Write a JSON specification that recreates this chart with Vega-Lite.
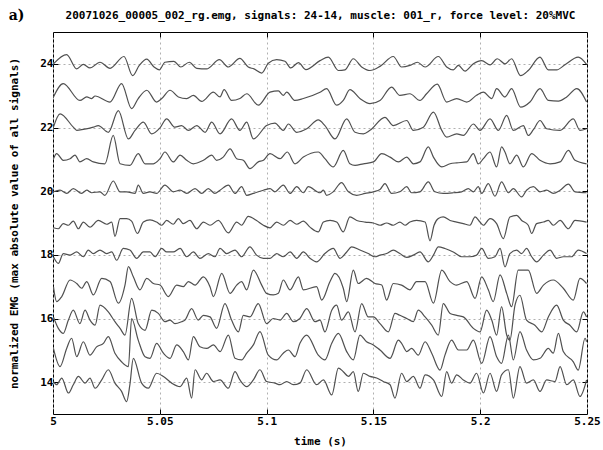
{
"$schema":"https://vega.github.io/schema/vega-lite/v6.json",
"width":534,"height":382,
"autosize":{"type":"none"},
"padding":{"left":53,"top":32,"right":16,"bottom":36},
"background":"#ffffff",
"data":{"values":[
{"s":24,"t":5.0002,"v":24.00},{"s":24,"t":5.0064,"v":24.29},{"s":24,"t":5.0111,"v":23.84},{"s":24,"t":5.0142,"v":23.98},{"s":24,"t":5.0173,"v":23.87},{"s":24,"t":5.0220,"v":24.05},{"s":24,"t":5.0267,"v":23.86},{"s":24,"t":5.0332,"v":24.23},{"s":24,"t":5.0373,"v":23.63},{"s":24,"t":5.0404,"v":23.95},{"s":24,"t":5.0439,"v":24.15},{"s":24,"t":5.0473,"v":23.90},{"s":24,"t":5.0498,"v":23.81},{"s":24,"t":5.0524,"v":24.05},{"s":24,"t":5.0566,"v":24.08},{"s":24,"t":5.0598,"v":23.90},{"s":24,"t":5.0638,"v":24.05},{"s":24,"t":5.0673,"v":23.86},{"s":24,"t":5.0719,"v":23.84},{"s":24,"t":5.0779,"v":24.13},{"s":24,"t":5.0821,"v":23.90},{"s":24,"t":5.0875,"v":24.17},{"s":24,"t":5.0914,"v":23.90},{"s":24,"t":5.0941,"v":23.84},{"s":24,"t":5.0977,"v":23.71},{"s":24,"t":5.1008,"v":24.02},{"s":24,"t":5.1047,"v":24.13},{"s":24,"t":5.1086,"v":24.08},{"s":24,"t":5.1113,"v":23.87},{"s":24,"t":5.1149,"v":24.04},{"s":24,"t":5.1184,"v":23.82},{"s":24,"t":5.1250,"v":24.10},{"s":24,"t":5.1289,"v":24.21},{"s":24,"t":5.1336,"v":23.79},{"s":24,"t":5.1367,"v":23.81},{"s":24,"t":5.1406,"v":24.16},{"s":24,"t":5.1445,"v":23.90},{"s":24,"t":5.1484,"v":23.79},{"s":24,"t":5.1531,"v":23.92},{"s":24,"t":5.1593,"v":24.23},{"s":24,"t":5.1632,"v":23.90},{"s":24,"t":5.1671,"v":23.95},{"s":24,"t":5.1706,"v":24.05},{"s":24,"t":5.1742,"v":23.90},{"s":24,"t":5.1804,"v":24.23},{"s":24,"t":5.1843,"v":23.90},{"s":24,"t":5.1874,"v":23.81},{"s":24,"t":5.1898,"v":23.95},{"s":24,"t":5.1929,"v":23.77},{"s":24,"t":5.1968,"v":24.00},{"s":24,"t":5.2007,"v":24.10},{"s":24,"t":5.2046,"v":23.97},{"s":24,"t":5.2080,"v":24.16},{"s":24,"t":5.2116,"v":24.00},{"s":24,"t":5.2147,"v":24.16},{"s":24,"t":5.2189,"v":23.63},{"s":24,"t":5.2225,"v":23.79},{"s":24,"t":5.2280,"v":24.21},{"s":24,"t":5.2319,"v":23.81},{"s":24,"t":5.2358,"v":23.81},{"s":24,"t":5.2397,"v":23.97},{"s":24,"t":5.2459,"v":24.21},{"s":24,"t":5.2498,"v":23.98},
{"s":23,"t":5.0002,"v":22.96},{"s":23,"t":5.0048,"v":23.38},{"s":23,"t":5.0126,"v":22.85},{"s":23,"t":5.0158,"v":22.96},{"s":23,"t":5.0181,"v":22.91},{"s":23,"t":5.0197,"v":22.99},{"s":23,"t":5.0267,"v":22.80},{"s":23,"t":5.0321,"v":23.38},{"s":23,"t":5.0368,"v":22.59},{"s":23,"t":5.0399,"v":22.91},{"s":23,"t":5.0439,"v":23.17},{"s":23,"t":5.0485,"v":22.80},{"s":23,"t":5.0509,"v":22.91},{"s":23,"t":5.0548,"v":23.17},{"s":23,"t":5.0587,"v":22.96},{"s":23,"t":5.0626,"v":22.91},{"s":23,"t":5.0657,"v":23.01},{"s":23,"t":5.0696,"v":22.82},{"s":23,"t":5.0751,"v":23.11},{"s":23,"t":5.0782,"v":22.96},{"s":23,"t":5.0801,"v":23.19},{"s":23,"t":5.0836,"v":22.85},{"s":23,"t":5.0875,"v":22.91},{"s":23,"t":5.0907,"v":23.06},{"s":23,"t":5.0961,"v":22.70},{"s":23,"t":5.1016,"v":23.11},{"s":23,"t":5.1055,"v":23.15},{"s":23,"t":5.1078,"v":23.01},{"s":23,"t":5.1094,"v":23.11},{"s":23,"t":5.1133,"v":22.85},{"s":23,"t":5.1172,"v":22.91},{"s":23,"t":5.1250,"v":23.11},{"s":23,"t":5.1281,"v":23.22},{"s":23,"t":5.1328,"v":22.70},{"s":23,"t":5.1359,"v":22.85},{"s":23,"t":5.1390,"v":23.19},{"s":23,"t":5.1437,"v":22.91},{"s":23,"t":5.1484,"v":22.75},{"s":23,"t":5.1531,"v":22.85},{"s":23,"t":5.1585,"v":23.27},{"s":23,"t":5.1624,"v":23.01},{"s":23,"t":5.1671,"v":23.06},{"s":23,"t":5.1718,"v":22.85},{"s":23,"t":5.1749,"v":23.06},{"s":23,"t":5.1799,"v":23.36},{"s":23,"t":5.1843,"v":22.80},{"s":23,"t":5.1890,"v":22.91},{"s":23,"t":5.1937,"v":22.80},{"s":23,"t":5.1983,"v":23.01},{"s":23,"t":5.2015,"v":23.11},{"s":23,"t":5.2054,"v":22.91},{"s":23,"t":5.2077,"v":23.22},{"s":23,"t":5.2116,"v":22.96},{"s":23,"t":5.2147,"v":23.22},{"s":23,"t":5.2189,"v":22.64},{"s":23,"t":5.2233,"v":22.80},{"s":23,"t":5.2280,"v":23.22},{"s":23,"t":5.2319,"v":22.85},{"s":23,"t":5.2366,"v":22.83},{"s":23,"t":5.2405,"v":22.96},{"s":23,"t":5.2452,"v":23.22},{"s":23,"t":5.2498,"v":22.80},
{"s":22,"t":5.0002,"v":22.01},{"s":22,"t":5.0033,"v":22.43},{"s":22,"t":5.0095,"v":22.01},{"s":22,"t":5.0111,"v":21.91},{"s":22,"t":5.0142,"v":21.94},{"s":22,"t":5.0189,"v":22.01},{"s":22,"t":5.0212,"v":22.06},{"s":22,"t":5.0259,"v":21.85},{"s":22,"t":5.0306,"v":22.53},{"s":22,"t":5.0353,"v":21.64},{"s":22,"t":5.0384,"v":21.91},{"s":22,"t":5.0423,"v":22.17},{"s":22,"t":5.0462,"v":21.80},{"s":22,"t":5.0501,"v":21.99},{"s":22,"t":5.0532,"v":22.27},{"s":22,"t":5.0571,"v":22.01},{"s":22,"t":5.0602,"v":22.06},{"s":22,"t":5.0634,"v":21.91},{"s":22,"t":5.0673,"v":22.06},{"s":22,"t":5.0712,"v":21.85},{"s":22,"t":5.0743,"v":22.17},{"s":22,"t":5.0782,"v":21.80},{"s":22,"t":5.0836,"v":22.27},{"s":22,"t":5.0875,"v":21.91},{"s":22,"t":5.0907,"v":22.17},{"s":22,"t":5.0938,"v":21.64},{"s":22,"t":5.1000,"v":22.06},{"s":22,"t":5.1039,"v":22.14},{"s":22,"t":5.1078,"v":21.91},{"s":22,"t":5.1102,"v":22.11},{"s":22,"t":5.1141,"v":21.85},{"s":22,"t":5.1188,"v":21.96},{"s":22,"t":5.1242,"v":22.24},{"s":22,"t":5.1273,"v":22.06},{"s":22,"t":5.1320,"v":21.64},{"s":22,"t":5.1375,"v":22.27},{"s":22,"t":5.1414,"v":21.85},{"s":22,"t":5.1453,"v":21.80},{"s":22,"t":5.1484,"v":21.91},{"s":22,"t":5.1554,"v":22.32},{"s":22,"t":5.1593,"v":22.06},{"s":22,"t":5.1656,"v":22.22},{"s":22,"t":5.1687,"v":21.91},{"s":22,"t":5.1734,"v":22.01},{"s":22,"t":5.1781,"v":22.48},{"s":22,"t":5.1820,"v":21.91},{"s":22,"t":5.1843,"v":21.70},{"s":22,"t":5.1890,"v":21.80},{"s":22,"t":5.1921,"v":21.75},{"s":22,"t":5.1968,"v":22.11},{"s":22,"t":5.1999,"v":21.91},{"s":22,"t":5.2046,"v":22.27},{"s":22,"t":5.2085,"v":21.91},{"s":22,"t":5.2124,"v":22.38},{"s":22,"t":5.2155,"v":21.91},{"s":22,"t":5.2202,"v":22.06},{"s":22,"t":5.2225,"v":21.75},{"s":22,"t":5.2249,"v":21.93},{"s":22,"t":5.2280,"v":22.22},{"s":22,"t":5.2311,"v":21.96},{"s":22,"t":5.2374,"v":21.91},{"s":22,"t":5.2436,"v":22.27},{"s":22,"t":5.2467,"v":21.91},{"s":22,"t":5.2498,"v":21.96},
{"s":21,"t":5.0002,"v":21.02},{"s":21,"t":5.0017,"v":21.18},{"s":21,"t":5.0048,"v":20.97},{"s":21,"t":5.0080,"v":21.02},{"s":21,"t":5.0103,"v":21.13},{"s":21,"t":5.0126,"v":20.92},{"s":21,"t":5.0158,"v":21.02},{"s":21,"t":5.0189,"v":20.92},{"s":21,"t":5.0243,"v":20.86},{"s":21,"t":5.0282,"v":21.75},{"s":21,"t":5.0314,"v":20.86},{"s":21,"t":5.0360,"v":20.81},{"s":21,"t":5.0399,"v":21.18},{"s":21,"t":5.0431,"v":20.86},{"s":21,"t":5.0470,"v":20.86},{"s":21,"t":5.0501,"v":21.02},{"s":21,"t":5.0524,"v":21.23},{"s":21,"t":5.0563,"v":20.92},{"s":21,"t":5.0595,"v":21.13},{"s":21,"t":5.0626,"v":20.97},{"s":21,"t":5.0657,"v":20.86},{"s":21,"t":5.0704,"v":20.97},{"s":21,"t":5.0743,"v":21.13},{"s":21,"t":5.0766,"v":20.97},{"s":21,"t":5.0797,"v":21.07},{"s":21,"t":5.0829,"v":21.33},{"s":21,"t":5.0860,"v":21.02},{"s":21,"t":5.0891,"v":20.97},{"s":21,"t":5.0922,"v":20.71},{"s":21,"t":5.0961,"v":20.92},{"s":21,"t":5.0985,"v":20.97},{"s":21,"t":5.1016,"v":21.18},{"s":21,"t":5.1063,"v":21.02},{"s":21,"t":5.1097,"v":21.23},{"s":21,"t":5.1133,"v":20.86},{"s":21,"t":5.1172,"v":21.07},{"s":21,"t":5.1242,"v":21.23},{"s":21,"t":5.1273,"v":21.02},{"s":21,"t":5.1312,"v":20.76},{"s":21,"t":5.1359,"v":21.28},{"s":21,"t":5.1390,"v":20.86},{"s":21,"t":5.1414,"v":20.81},{"s":21,"t":5.1453,"v":20.86},{"s":21,"t":5.1500,"v":20.92},{"s":21,"t":5.1539,"v":21.18},{"s":21,"t":5.1578,"v":21.07},{"s":21,"t":5.1617,"v":20.92},{"s":21,"t":5.1656,"v":21.07},{"s":21,"t":5.1687,"v":20.86},{"s":21,"t":5.1718,"v":20.92},{"s":21,"t":5.1757,"v":21.39},{"s":21,"t":5.1781,"v":21.07},{"s":21,"t":5.1820,"v":20.76},{"s":21,"t":5.1859,"v":20.86},{"s":21,"t":5.1890,"v":20.89},{"s":21,"t":5.1937,"v":20.92},{"s":21,"t":5.1968,"v":21.18},{"s":21,"t":5.1991,"v":20.86},{"s":21,"t":5.2015,"v":21.02},{"s":21,"t":5.2046,"v":21.23},{"s":21,"t":5.2077,"v":20.76},{"s":21,"t":5.2100,"v":21.39},{"s":21,"t":5.2116,"v":21.23},{"s":21,"t":5.2139,"v":20.86},{"s":21,"t":5.2171,"v":21.13},{"s":21,"t":5.2202,"v":20.76},{"s":21,"t":5.2241,"v":21.18},{"s":21,"t":5.2280,"v":20.97},{"s":21,"t":5.2327,"v":20.86},{"s":21,"t":5.2374,"v":20.92},{"s":21,"t":5.2413,"v":21.28},{"s":21,"t":5.2444,"v":20.97},{"s":21,"t":5.2498,"v":20.86},
{"s":20,"t":5.0002,"v":19.98},{"s":20,"t":5.0033,"v":20.03},{"s":20,"t":5.0064,"v":19.93},{"s":20,"t":5.0095,"v":20.08},{"s":20,"t":5.0134,"v":19.93},{"s":20,"t":5.0158,"v":20.03},{"s":20,"t":5.0181,"v":19.95},{"s":20,"t":5.0220,"v":19.98},{"s":20,"t":5.0243,"v":19.87},{"s":20,"t":5.0282,"v":20.32},{"s":20,"t":5.0314,"v":19.98},{"s":20,"t":5.0345,"v":19.98},{"s":20,"t":5.0384,"v":19.93},{"s":20,"t":5.0399,"v":20.19},{"s":20,"t":5.0423,"v":19.93},{"s":20,"t":5.0454,"v":19.98},{"s":20,"t":5.0485,"v":19.93},{"s":20,"t":5.0524,"v":20.19},{"s":20,"t":5.0563,"v":19.98},{"s":20,"t":5.0595,"v":20.03},{"s":20,"t":5.0626,"v":19.93},{"s":20,"t":5.0665,"v":20.08},{"s":20,"t":5.0696,"v":19.93},{"s":20,"t":5.0727,"v":20.08},{"s":20,"t":5.0758,"v":19.93},{"s":20,"t":5.0782,"v":20.03},{"s":20,"t":5.0821,"v":20.19},{"s":20,"t":5.0852,"v":19.93},{"s":20,"t":5.0883,"v":20.14},{"s":20,"t":5.0907,"v":19.87},{"s":20,"t":5.0938,"v":19.93},{"s":20,"t":5.0985,"v":20.03},{"s":20,"t":5.1016,"v":20.08},{"s":20,"t":5.1039,"v":19.98},{"s":20,"t":5.1078,"v":20.19},{"s":20,"t":5.1110,"v":19.93},{"s":20,"t":5.1141,"v":20.14},{"s":20,"t":5.1172,"v":19.95},{"s":20,"t":5.1195,"v":20.14},{"s":20,"t":5.1250,"v":19.95},{"s":20,"t":5.1266,"v":20.03},{"s":20,"t":5.1281,"v":19.87},{"s":20,"t":5.1312,"v":19.98},{"s":20,"t":5.1351,"v":20.27},{"s":20,"t":5.1383,"v":19.98},{"s":20,"t":5.1422,"v":19.87},{"s":20,"t":5.1461,"v":19.93},{"s":20,"t":5.1500,"v":19.98},{"s":20,"t":5.1531,"v":20.05},{"s":20,"t":5.1554,"v":20.24},{"s":20,"t":5.1585,"v":19.93},{"s":20,"t":5.1624,"v":19.98},{"s":20,"t":5.1656,"v":20.14},{"s":20,"t":5.1679,"v":19.95},{"s":20,"t":5.1718,"v":19.98},{"s":20,"t":5.1757,"v":20.29},{"s":20,"t":5.1788,"v":19.98},{"s":20,"t":5.1827,"v":19.93},{"s":20,"t":5.1874,"v":19.95},{"s":20,"t":5.1913,"v":19.98},{"s":20,"t":5.1944,"v":20.08},{"s":20,"t":5.1968,"v":19.98},{"s":20,"t":5.1991,"v":20.14},{"s":20,"t":5.2007,"v":19.93},{"s":20,"t":5.2038,"v":20.24},{"s":20,"t":5.2069,"v":19.84},{"s":20,"t":5.2100,"v":20.29},{"s":20,"t":5.2132,"v":19.95},{"s":20,"t":5.2155,"v":20.08},{"s":20,"t":5.2194,"v":19.82},{"s":20,"t":5.2217,"v":20.03},{"s":20,"t":5.2249,"v":20.14},{"s":20,"t":5.2280,"v":19.98},{"s":20,"t":5.2311,"v":20.03},{"s":20,"t":5.2342,"v":19.93},{"s":20,"t":5.2374,"v":20.03},{"s":20,"t":5.2413,"v":20.22},{"s":20,"t":5.2444,"v":19.98},{"s":20,"t":5.2498,"v":19.95},
{"s":19,"t":5.0002,"v":18.85},{"s":19,"t":5.0025,"v":18.82},{"s":19,"t":5.0048,"v":18.98},{"s":19,"t":5.0072,"v":18.93},{"s":19,"t":5.0095,"v":19.06},{"s":19,"t":5.0119,"v":18.82},{"s":19,"t":5.0142,"v":19.03},{"s":19,"t":5.0173,"v":18.87},{"s":19,"t":5.0212,"v":19.08},{"s":19,"t":5.0251,"v":18.96},{"s":19,"t":5.0275,"v":19.03},{"s":19,"t":5.0290,"v":18.58},{"s":19,"t":5.0314,"v":19.14},{"s":19,"t":5.0345,"v":19.14},{"s":19,"t":5.0368,"v":19.06},{"s":19,"t":5.0395,"v":18.67},{"s":19,"t":5.0423,"v":19.03},{"s":19,"t":5.0454,"v":19.10},{"s":19,"t":5.0485,"v":19.03},{"s":19,"t":5.0509,"v":18.93},{"s":19,"t":5.0532,"v":19.08},{"s":19,"t":5.0563,"v":18.96},{"s":19,"t":5.0587,"v":19.14},{"s":19,"t":5.0610,"v":18.98},{"s":19,"t":5.0641,"v":19.08},{"s":19,"t":5.0673,"v":18.82},{"s":19,"t":5.0704,"v":19.03},{"s":19,"t":5.0735,"v":18.93},{"s":19,"t":5.0774,"v":19.08},{"s":19,"t":5.0821,"v":18.69},{"s":19,"t":5.0860,"v":19.03},{"s":19,"t":5.0883,"v":18.93},{"s":19,"t":5.0914,"v":19.21},{"s":19,"t":5.0953,"v":19.08},{"s":19,"t":5.0985,"v":18.93},{"s":19,"t":5.1016,"v":18.85},{"s":19,"t":5.1047,"v":19.03},{"s":19,"t":5.1078,"v":18.93},{"s":19,"t":5.1110,"v":19.08},{"s":19,"t":5.1141,"v":18.96},{"s":19,"t":5.1172,"v":19.06},{"s":19,"t":5.1203,"v":18.87},{"s":19,"t":5.1242,"v":18.72},{"s":19,"t":5.1266,"v":19.03},{"s":19,"t":5.1297,"v":19.08},{"s":19,"t":5.1328,"v":19.03},{"s":19,"t":5.1359,"v":18.72},{"s":19,"t":5.1390,"v":19.19},{"s":19,"t":5.1422,"v":19.08},{"s":19,"t":5.1461,"v":19.03},{"s":19,"t":5.1500,"v":19.00},{"s":19,"t":5.1531,"v":18.93},{"s":19,"t":5.1562,"v":19.00},{"s":19,"t":5.1593,"v":18.93},{"s":19,"t":5.1624,"v":19.03},{"s":19,"t":5.1648,"v":18.93},{"s":19,"t":5.1671,"v":19.03},{"s":19,"t":5.1702,"v":19.08},{"s":19,"t":5.1742,"v":19.03},{"s":19,"t":5.1765,"v":18.44},{"s":19,"t":5.1784,"v":18.93},{"s":19,"t":5.1804,"v":19.14},{"s":19,"t":5.1827,"v":19.19},{"s":19,"t":5.1859,"v":19.08},{"s":19,"t":5.1890,"v":19.03},{"s":19,"t":5.1921,"v":18.98},{"s":19,"t":5.1952,"v":18.93},{"s":19,"t":5.1976,"v":19.19},{"s":19,"t":5.1999,"v":19.03},{"s":19,"t":5.2015,"v":18.93},{"s":19,"t":5.2046,"v":19.14},{"s":19,"t":5.2077,"v":18.98},{"s":19,"t":5.2108,"v":18.51},{"s":19,"t":5.2139,"v":19.19},{"s":19,"t":5.2171,"v":19.24},{"s":19,"t":5.2194,"v":19.08},{"s":19,"t":5.2225,"v":18.93},{"s":19,"t":5.2241,"v":18.67},{"s":19,"t":5.2264,"v":18.98},{"s":19,"t":5.2296,"v":19.03},{"s":19,"t":5.2319,"v":19.08},{"s":19,"t":5.2342,"v":18.93},{"s":19,"t":5.2374,"v":19.08},{"s":19,"t":5.2413,"v":18.82},{"s":19,"t":5.2444,"v":19.08},{"s":19,"t":5.2498,"v":19.03},
{"s":18,"t":5.0002,"v":17.94},{"s":18,"t":5.0025,"v":17.73},{"s":18,"t":5.0048,"v":18.04},{"s":18,"t":5.0080,"v":17.99},{"s":18,"t":5.0111,"v":18.09},{"s":18,"t":5.0142,"v":17.94},{"s":18,"t":5.0165,"v":18.15},{"s":18,"t":5.0189,"v":18.04},{"s":18,"t":5.0220,"v":18.15},{"s":18,"t":5.0251,"v":18.04},{"s":18,"t":5.0275,"v":18.09},{"s":18,"t":5.0298,"v":17.83},{"s":18,"t":5.0329,"v":18.20},{"s":18,"t":5.0360,"v":18.15},{"s":18,"t":5.0392,"v":17.89},{"s":18,"t":5.0423,"v":18.09},{"s":18,"t":5.0454,"v":18.09},{"s":18,"t":5.0478,"v":17.94},{"s":18,"t":5.0509,"v":18.20},{"s":18,"t":5.0532,"v":18.09},{"s":18,"t":5.0563,"v":18.09},{"s":18,"t":5.0595,"v":18.20},{"s":18,"t":5.0626,"v":17.94},{"s":18,"t":5.0657,"v":18.09},{"s":18,"t":5.0688,"v":17.89},{"s":18,"t":5.0727,"v":18.04},{"s":18,"t":5.0758,"v":17.94},{"s":18,"t":5.0782,"v":18.20},{"s":18,"t":5.0813,"v":18.04},{"s":18,"t":5.0852,"v":18.15},{"s":18,"t":5.0883,"v":17.94},{"s":18,"t":5.0922,"v":18.25},{"s":18,"t":5.0953,"v":17.99},{"s":18,"t":5.0985,"v":17.89},{"s":18,"t":5.1016,"v":17.89},{"s":18,"t":5.1047,"v":18.04},{"s":18,"t":5.1078,"v":17.94},{"s":18,"t":5.1110,"v":18.09},{"s":18,"t":5.1141,"v":17.89},{"s":18,"t":5.1172,"v":18.09},{"s":18,"t":5.1203,"v":17.89},{"s":18,"t":5.1234,"v":17.78},{"s":18,"t":5.1273,"v":18.04},{"s":18,"t":5.1312,"v":18.20},{"s":18,"t":5.1344,"v":17.89},{"s":18,"t":5.1375,"v":18.09},{"s":18,"t":5.1398,"v":18.25},{"s":18,"t":5.1437,"v":18.15},{"s":18,"t":5.1476,"v":18.04},{"s":18,"t":5.1507,"v":17.94},{"s":18,"t":5.1531,"v":17.99},{"s":18,"t":5.1562,"v":18.04},{"s":18,"t":5.1593,"v":18.15},{"s":18,"t":5.1624,"v":18.04},{"s":18,"t":5.1656,"v":17.92},{"s":18,"t":5.1687,"v":17.99},{"s":18,"t":5.1718,"v":18.09},{"s":18,"t":5.1757,"v":17.78},{"s":18,"t":5.1781,"v":17.99},{"s":18,"t":5.1804,"v":18.25},{"s":18,"t":5.1835,"v":18.20},{"s":18,"t":5.1874,"v":18.09},{"s":18,"t":5.1913,"v":17.94},{"s":18,"t":5.1952,"v":17.94},{"s":18,"t":5.1983,"v":17.99},{"s":18,"t":5.2007,"v":18.20},{"s":18,"t":5.2038,"v":17.89},{"s":18,"t":5.2069,"v":17.94},{"s":18,"t":5.2093,"v":18.20},{"s":18,"t":5.2116,"v":17.62},{"s":18,"t":5.2139,"v":18.04},{"s":18,"t":5.2171,"v":18.15},{"s":18,"t":5.2194,"v":18.04},{"s":18,"t":5.2217,"v":18.20},{"s":18,"t":5.2241,"v":17.94},{"s":18,"t":5.2264,"v":17.78},{"s":18,"t":5.2296,"v":17.99},{"s":18,"t":5.2327,"v":18.15},{"s":18,"t":5.2358,"v":17.89},{"s":18,"t":5.2389,"v":17.94},{"s":18,"t":5.2428,"v":17.94},{"s":18,"t":5.2459,"v":18.15},{"s":18,"t":5.2498,"v":18.04},
{"s":17,"t":5.0002,"v":17.00},{"s":17,"t":5.0017,"v":16.53},{"s":17,"t":5.0041,"v":16.69},{"s":17,"t":5.0080,"v":17.21},{"s":17,"t":5.0111,"v":17.10},{"s":17,"t":5.0134,"v":16.95},{"s":17,"t":5.0158,"v":17.16},{"s":17,"t":5.0189,"v":16.74},{"s":17,"t":5.0228,"v":17.26},{"s":17,"t":5.0267,"v":17.16},{"s":17,"t":5.0306,"v":16.48},{"s":17,"t":5.0337,"v":17.05},{"s":17,"t":5.0353,"v":17.63},{"s":17,"t":5.0376,"v":17.31},{"s":17,"t":5.0407,"v":16.90},{"s":17,"t":5.0439,"v":17.26},{"s":17,"t":5.0470,"v":17.10},{"s":17,"t":5.0501,"v":17.05},{"s":17,"t":5.0540,"v":16.69},{"s":17,"t":5.0579,"v":17.05},{"s":17,"t":5.0610,"v":17.00},{"s":17,"t":5.0634,"v":17.16},{"s":17,"t":5.0665,"v":17.05},{"s":17,"t":5.0704,"v":17.31},{"s":17,"t":5.0735,"v":17.00},{"s":17,"t":5.0751,"v":16.69},{"s":17,"t":5.0790,"v":17.42},{"s":17,"t":5.0829,"v":16.79},{"s":17,"t":5.0860,"v":17.05},{"s":17,"t":5.0883,"v":17.16},{"s":17,"t":5.0907,"v":16.90},{"s":17,"t":5.0938,"v":17.52},{"s":17,"t":5.0977,"v":17.05},{"s":17,"t":5.1000,"v":16.79},{"s":17,"t":5.1031,"v":16.74},{"s":17,"t":5.1055,"v":16.79},{"s":17,"t":5.1078,"v":17.21},{"s":17,"t":5.1110,"v":16.90},{"s":17,"t":5.1149,"v":17.31},{"s":17,"t":5.1172,"v":16.90},{"s":17,"t":5.1234,"v":17.00},{"s":17,"t":5.1258,"v":16.58},{"s":17,"t":5.1297,"v":17.16},{"s":17,"t":5.1320,"v":17.42},{"s":17,"t":5.1359,"v":16.95},{"s":17,"t":5.1375,"v":16.53},{"s":17,"t":5.1406,"v":17.52},{"s":17,"t":5.1429,"v":17.10},{"s":17,"t":5.1468,"v":17.26},{"s":17,"t":5.1507,"v":17.10},{"s":17,"t":5.1539,"v":17.05},{"s":17,"t":5.1562,"v":16.58},{"s":17,"t":5.1593,"v":17.10},{"s":17,"t":5.1632,"v":17.05},{"s":17,"t":5.1671,"v":16.90},{"s":17,"t":5.1702,"v":17.16},{"s":17,"t":5.1742,"v":17.16},{"s":17,"t":5.1781,"v":16.48},{"s":17,"t":5.1820,"v":17.52},{"s":17,"t":5.1859,"v":17.16},{"s":17,"t":5.1890,"v":17.05},{"s":17,"t":5.1937,"v":17.16},{"s":17,"t":5.1976,"v":16.63},{"s":17,"t":5.2007,"v":17.31},{"s":17,"t":5.2038,"v":16.90},{"s":17,"t":5.2061,"v":16.53},{"s":17,"t":5.2093,"v":17.37},{"s":17,"t":5.2124,"v":16.79},{"s":17,"t":5.2147,"v":16.37},{"s":17,"t":5.2178,"v":17.52},{"s":17,"t":5.2225,"v":17.52},{"s":17,"t":5.2264,"v":16.79},{"s":17,"t":5.2296,"v":17.05},{"s":17,"t":5.2342,"v":17.21},{"s":17,"t":5.2389,"v":16.95},{"s":17,"t":5.2436,"v":16.58},{"s":17,"t":5.2467,"v":17.26},{"s":17,"t":5.2498,"v":17.10},
{"s":16,"t":5.0002,"v":16.05},{"s":16,"t":5.0025,"v":15.69},{"s":16,"t":5.0048,"v":15.53},{"s":16,"t":5.0072,"v":15.95},{"s":16,"t":5.0095,"v":16.26},{"s":16,"t":5.0126,"v":15.84},{"s":16,"t":5.0150,"v":16.26},{"s":16,"t":5.0173,"v":15.95},{"s":16,"t":5.0197,"v":15.79},{"s":16,"t":5.0220,"v":16.42},{"s":16,"t":5.0259,"v":16.21},{"s":16,"t":5.0290,"v":15.90},{"s":16,"t":5.0314,"v":15.69},{"s":16,"t":5.0337,"v":15.48},{"s":16,"t":5.0368,"v":16.63},{"s":16,"t":5.0399,"v":15.84},{"s":16,"t":5.0431,"v":15.63},{"s":16,"t":5.0462,"v":16.26},{"s":16,"t":5.0493,"v":16.16},{"s":16,"t":5.0524,"v":15.90},{"s":16,"t":5.0548,"v":15.95},{"s":16,"t":5.0571,"v":15.84},{"s":16,"t":5.0602,"v":15.90},{"s":16,"t":5.0618,"v":15.95},{"s":16,"t":5.0649,"v":16.31},{"s":16,"t":5.0680,"v":15.95},{"s":16,"t":5.0704,"v":16.10},{"s":16,"t":5.0735,"v":16.05},{"s":16,"t":5.0766,"v":15.69},{"s":16,"t":5.0805,"v":16.47},{"s":16,"t":5.0836,"v":15.95},{"s":16,"t":5.0868,"v":15.58},{"s":16,"t":5.0891,"v":16.10},{"s":16,"t":5.0922,"v":16.05},{"s":16,"t":5.0961,"v":16.47},{"s":16,"t":5.1000,"v":15.84},{"s":16,"t":5.1031,"v":16.00},{"s":16,"t":5.1063,"v":15.95},{"s":16,"t":5.1094,"v":16.16},{"s":16,"t":5.1125,"v":15.90},{"s":16,"t":5.1156,"v":16.00},{"s":16,"t":5.1188,"v":16.31},{"s":16,"t":5.1227,"v":15.90},{"s":16,"t":5.1250,"v":15.95},{"s":16,"t":5.1273,"v":15.58},{"s":16,"t":5.1305,"v":16.26},{"s":16,"t":5.1328,"v":16.42},{"s":16,"t":5.1351,"v":15.95},{"s":16,"t":5.1383,"v":16.21},{"s":16,"t":5.1414,"v":15.58},{"s":16,"t":5.1445,"v":16.47},{"s":16,"t":5.1476,"v":16.05},{"s":16,"t":5.1500,"v":16.05},{"s":16,"t":5.1531,"v":15.84},{"s":16,"t":5.1570,"v":15.58},{"s":16,"t":5.1601,"v":16.16},{"s":16,"t":5.1624,"v":16.10},{"s":16,"t":5.1656,"v":16.00},{"s":16,"t":5.1687,"v":15.90},{"s":16,"t":5.1710,"v":16.26},{"s":16,"t":5.1742,"v":16.05},{"s":16,"t":5.1773,"v":15.79},{"s":16,"t":5.1804,"v":15.48},{"s":16,"t":5.1827,"v":16.47},{"s":16,"t":5.1859,"v":16.16},{"s":16,"t":5.1890,"v":16.10},{"s":16,"t":5.1921,"v":16.05},{"s":16,"t":5.1968,"v":15.69},{"s":16,"t":5.1999,"v":15.58},{"s":16,"t":5.2030,"v":16.26},{"s":16,"t":5.2054,"v":15.95},{"s":16,"t":5.2077,"v":15.48},{"s":16,"t":5.2100,"v":16.37},{"s":16,"t":5.2124,"v":15.48},{"s":16,"t":5.2139,"v":15.32},{"s":16,"t":5.2163,"v":16.42},{"s":16,"t":5.2186,"v":16.73},{"s":16,"t":5.2217,"v":15.95},{"s":16,"t":5.2256,"v":15.79},{"s":16,"t":5.2288,"v":15.58},{"s":16,"t":5.2319,"v":16.05},{"s":16,"t":5.2358,"v":16.42},{"s":16,"t":5.2389,"v":15.95},{"s":16,"t":5.2420,"v":15.79},{"s":16,"t":5.2452,"v":15.58},{"s":16,"t":5.2483,"v":16.21},{"s":16,"t":5.2498,"v":16.05},
{"s":15,"t":5.0002,"v":15.06},{"s":15,"t":5.0033,"v":14.49},{"s":15,"t":5.0064,"v":15.06},{"s":15,"t":5.0087,"v":15.38},{"s":15,"t":5.0111,"v":14.80},{"s":15,"t":5.0142,"v":15.27},{"s":15,"t":5.0173,"v":14.85},{"s":15,"t":5.0204,"v":15.11},{"s":15,"t":5.0236,"v":15.22},{"s":15,"t":5.0259,"v":15.43},{"s":15,"t":5.0290,"v":14.91},{"s":15,"t":5.0321,"v":14.64},{"s":15,"t":5.0353,"v":14.49},{"s":15,"t":5.0368,"v":16.00},{"s":15,"t":5.0399,"v":15.32},{"s":15,"t":5.0431,"v":14.80},{"s":15,"t":5.0454,"v":14.75},{"s":15,"t":5.0485,"v":15.22},{"s":15,"t":5.0517,"v":14.91},{"s":15,"t":5.0548,"v":14.75},{"s":15,"t":5.0579,"v":15.17},{"s":15,"t":5.0610,"v":14.96},{"s":15,"t":5.0634,"v":14.70},{"s":15,"t":5.0657,"v":15.43},{"s":15,"t":5.0688,"v":15.11},{"s":15,"t":5.0719,"v":15.06},{"s":15,"t":5.0751,"v":15.17},{"s":15,"t":5.0782,"v":14.96},{"s":15,"t":5.0821,"v":15.48},{"s":15,"t":5.0852,"v":14.75},{"s":15,"t":5.0883,"v":14.70},{"s":15,"t":5.0907,"v":14.91},{"s":15,"t":5.0938,"v":15.17},{"s":15,"t":5.0969,"v":15.59},{"s":15,"t":5.1008,"v":14.85},{"s":15,"t":5.1047,"v":14.70},{"s":15,"t":5.1078,"v":14.91},{"s":15,"t":5.1102,"v":15.01},{"s":15,"t":5.1133,"v":14.80},{"s":15,"t":5.1156,"v":15.22},{"s":15,"t":5.1188,"v":15.48},{"s":15,"t":5.1242,"v":14.85},{"s":15,"t":5.1273,"v":14.70},{"s":15,"t":5.1305,"v":15.22},{"s":15,"t":5.1336,"v":15.53},{"s":15,"t":5.1375,"v":14.96},{"s":15,"t":5.1406,"v":14.70},{"s":15,"t":5.1437,"v":15.48},{"s":15,"t":5.1468,"v":15.27},{"s":15,"t":5.1500,"v":15.17},{"s":15,"t":5.1531,"v":15.01},{"s":15,"t":5.1578,"v":14.75},{"s":15,"t":5.1617,"v":15.32},{"s":15,"t":5.1632,"v":15.22},{"s":15,"t":5.1656,"v":14.96},{"s":15,"t":5.1679,"v":15.06},{"s":15,"t":5.1710,"v":14.85},{"s":15,"t":5.1742,"v":15.27},{"s":15,"t":5.1773,"v":14.91},{"s":15,"t":5.1812,"v":14.38},{"s":15,"t":5.1835,"v":14.85},{"s":15,"t":5.1866,"v":15.32},{"s":15,"t":5.1898,"v":15.01},{"s":15,"t":5.1937,"v":15.01},{"s":15,"t":5.1968,"v":15.32},{"s":15,"t":5.2007,"v":14.59},{"s":15,"t":5.2046,"v":15.43},{"s":15,"t":5.2077,"v":14.80},{"s":15,"t":5.2100,"v":14.59},{"s":15,"t":5.2132,"v":15.48},{"s":15,"t":5.2155,"v":14.70},{"s":15,"t":5.2186,"v":15.59},{"s":15,"t":5.2217,"v":15.01},{"s":15,"t":5.2249,"v":14.70},{"s":15,"t":5.2280,"v":14.75},{"s":15,"t":5.2319,"v":15.06},{"s":15,"t":5.2342,"v":14.91},{"s":15,"t":5.2366,"v":15.53},{"s":15,"t":5.2389,"v":14.96},{"s":15,"t":5.2436,"v":14.64},{"s":15,"t":5.2459,"v":14.38},{"s":15,"t":5.2491,"v":15.38},{"s":15,"t":5.2498,"v":15.27},
{"s":14,"t":5.0002,"v":14.02},{"s":14,"t":5.0017,"v":13.92},{"s":14,"t":5.0041,"v":14.13},{"s":14,"t":5.0072,"v":13.66},{"s":14,"t":5.0095,"v":13.92},{"s":14,"t":5.0119,"v":14.18},{"s":14,"t":5.0150,"v":13.97},{"s":14,"t":5.0173,"v":14.13},{"s":14,"t":5.0197,"v":13.81},{"s":14,"t":5.0228,"v":14.07},{"s":14,"t":5.0259,"v":14.39},{"s":14,"t":5.0290,"v":13.97},{"s":14,"t":5.0321,"v":13.71},{"s":14,"t":5.0345,"v":13.39},{"s":14,"t":5.0360,"v":13.92},{"s":14,"t":5.0376,"v":14.75},{"s":14,"t":5.0415,"v":13.97},{"s":14,"t":5.0446,"v":13.81},{"s":14,"t":5.0485,"v":14.28},{"s":14,"t":5.0517,"v":14.18},{"s":14,"t":5.0556,"v":13.97},{"s":14,"t":5.0595,"v":13.86},{"s":14,"t":5.0626,"v":14.13},{"s":14,"t":5.0649,"v":13.50},{"s":14,"t":5.0665,"v":14.39},{"s":14,"t":5.0696,"v":14.07},{"s":14,"t":5.0719,"v":14.28},{"s":14,"t":5.0751,"v":14.02},{"s":14,"t":5.0782,"v":14.07},{"s":14,"t":5.0821,"v":13.81},{"s":14,"t":5.0852,"v":14.33},{"s":14,"t":5.0875,"v":14.07},{"s":14,"t":5.0907,"v":13.86},{"s":14,"t":5.0938,"v":14.07},{"s":14,"t":5.0969,"v":14.39},{"s":14,"t":5.1000,"v":14.02},{"s":14,"t":5.1039,"v":13.97},{"s":14,"t":5.1063,"v":13.92},{"s":14,"t":5.1094,"v":14.02},{"s":14,"t":5.1125,"v":13.92},{"s":14,"t":5.1156,"v":13.97},{"s":14,"t":5.1188,"v":14.39},{"s":14,"t":5.1234,"v":13.92},{"s":14,"t":5.1266,"v":14.07},{"s":14,"t":5.1305,"v":13.60},{"s":14,"t":5.1336,"v":14.44},{"s":14,"t":5.1359,"v":14.33},{"s":14,"t":5.1383,"v":14.18},{"s":14,"t":5.1406,"v":14.33},{"s":14,"t":5.1429,"v":13.71},{"s":14,"t":5.1453,"v":14.28},{"s":14,"t":5.1484,"v":14.18},{"s":14,"t":5.1515,"v":14.13},{"s":14,"t":5.1546,"v":14.02},{"s":14,"t":5.1578,"v":13.92},{"s":14,"t":5.1601,"v":13.50},{"s":14,"t":5.1632,"v":14.28},{"s":14,"t":5.1656,"v":14.02},{"s":14,"t":5.1687,"v":14.18},{"s":14,"t":5.1718,"v":13.81},{"s":14,"t":5.1742,"v":14.23},{"s":14,"t":5.1781,"v":14.07},{"s":14,"t":5.1820,"v":13.55},{"s":14,"t":5.1843,"v":14.33},{"s":14,"t":5.1866,"v":13.97},{"s":14,"t":5.1890,"v":14.23},{"s":14,"t":5.1921,"v":14.07},{"s":14,"t":5.1952,"v":13.97},{"s":14,"t":5.1983,"v":14.28},{"s":14,"t":5.2015,"v":13.66},{"s":14,"t":5.2046,"v":14.28},{"s":14,"t":5.2077,"v":13.71},{"s":14,"t":5.2100,"v":14.23},{"s":14,"t":5.2132,"v":14.39},{"s":14,"t":5.2155,"v":13.50},{"s":14,"t":5.2186,"v":14.49},{"s":14,"t":5.2217,"v":13.97},{"s":14,"t":5.2249,"v":14.07},{"s":14,"t":5.2280,"v":13.71},{"s":14,"t":5.2311,"v":14.07},{"s":14,"t":5.2350,"v":14.02},{"s":14,"t":5.2374,"v":14.49},{"s":14,"t":5.2405,"v":13.92},{"s":14,"t":5.2436,"v":14.07},{"s":14,"t":5.2467,"v":13.55},{"s":14,"t":5.2498,"v":14.07}
]},
"layer":[
{"mark":{"type":"line","interpolate":"monotone","stroke":"#505050","strokeWidth":1.2,"clip":true},
 "encoding":{
  "x":{"field":"t","type":"quantitative","scale":{"domain":[5,5.25],"nice":false,"zero":false},
   "axis":{"orient":"bottom","values":[5,5.05,5.1,5.15,5.2,5.25],"format":"~g","title":"time (s)","titleX":267,"titleY":27,"titleBaseline":"middle","grid":true,"gridDash":[2,3],"gridColor":"#b0b0b0","gridWidth":1,"domain":false,"ticks":true,"tickSize":-5,"tickColor":"#000","labelPadding":6,"labelFlush":false}},
  "y":{"field":"v","type":"quantitative","scale":{"domain":[13,25],"nice":false,"zero":false},
   "axis":{"orient":"left","values":[14,16,18,20,22,24],"title":"normalized EMG (max absolute value of all signals)","titleX":-39,"titleY":191,"titleAngle":-90,"titleAlign":"center","titleBaseline":"middle","grid":true,"gridDash":[2,3],"gridColor":"#b0b0b0","gridWidth":1,"domain":false,"tickSize":-5,"tickColor":"#000","labelPadding":5,"labelFlush":false}},
  "detail":{"field":"s","type":"nominal"}
 }},
{"mark":{"type":"line","strokeOpacity":0},
 "encoding":{
  "x":{"field":"t","type":"quantitative",
   "axis":{"orient":"top","values":[5,5.05,5.1,5.15,5.2,5.25],"labels":false,"grid":false,"domain":false,"tickSize":-5,"tickColor":"#000","title":"20071026_00005_002_rg.emg, signals: 24-14, muscle: 001_r, force level: 20%MVC","titleX":267,"titleY":-17,"titleAlign":"center","titleBaseline":"middle"}},
  "y":{"field":"v","type":"quantitative",
   "axis":{"orient":"right","values":[14,16,18,20,22,24],"labels":false,"grid":false,"domain":false,"tickSize":-5,"tickColor":"#000","title":"a)","titleAngle":0,"titleX":-571,"titleY":-17,"titleAlign":"center","titleBaseline":"middle","titleFont":"DejaVu Serif","titleFontSize":14,"titleFontWeight":"bold"}},
  "detail":{"field":"s","type":"nominal"}
 }}
],
"resolve":{"axis":{"x":"independent","y":"independent"}},
"config":{
 "view":{"stroke":"#000","strokeWidth":1},
 "axis":{"labelFont":"DejaVu Sans Mono","labelFontSize":11,"labelFontWeight":"bold","labelColor":"#000","titleFont":"DejaVu Sans Mono","titleFontSize":11,"titleFontWeight":"bold","titleColor":"#000"}
}
}
